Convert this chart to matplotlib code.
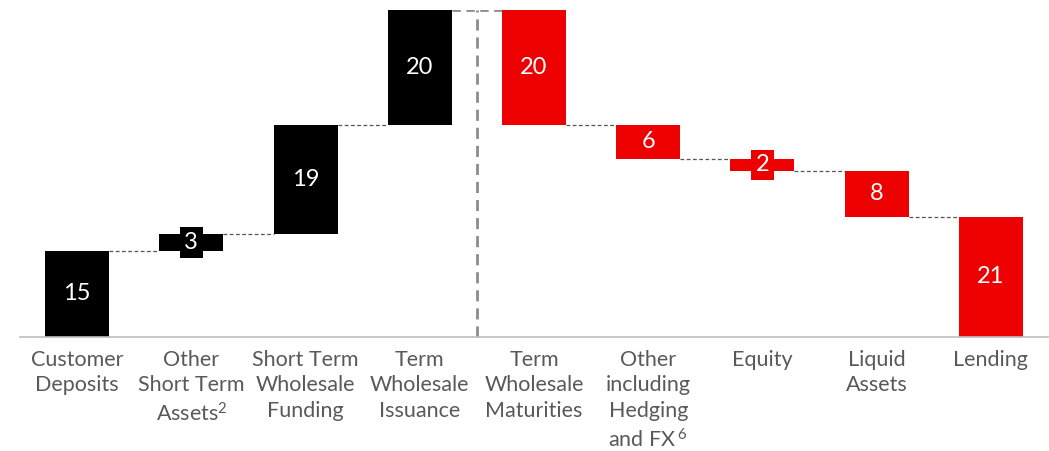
import matplotlib
matplotlib.use("Agg")
import matplotlib.pyplot as plt

# data
categories = ["Customer\nDeposits", "Other\nShort Term\nAssets$^{2}$", "Short Term\nWholesale\nFunding",
              "Term\nWholesale\nIssuance", "Term\nWholesale\nMaturities", "Other\nincluding\nHedging\nand FX$\\,^{6}$",
              "Equity", "Liquid\nAssets", "Lending"]
changes = [15, 3, 19, 20, -20, -6, -2, -8, -21]

black = "#000000"
red = "#EC0000"
grey_line = "#8C8C8C"
text_grey = "#595959"

plt.rcParams['font.family'] = ['Lato', 'DejaVu Sans']
plt.rcParams['mathtext.fontset'] = 'custom'
plt.rcParams['mathtext.rm'] = 'Lato'
plt.rcParams['mathtext.it'] = 'Lato'

fig = plt.figure(figsize=(10.49, 4.51), dpi=100)
ax = fig.add_axes([20 / 1049, (451 - 337) / 451, 1028 / 1049, 327 / 451])

# running totals
starts = []
total = 0
for c in changes:
    starts.append(total)
    total += c

width = 0.56
for i, (s, c) in enumerate(zip(starts, changes)):
    col = black if c > 0 else red
    lo = min(s, s + c)
    ax.bar(i, abs(c), bottom=lo, width=width, color=col, zorder=2)
    mid = lo + abs(c) / 2
    if abs(c) < 4:
        ax.text(i, mid, str(abs(c)), ha='center', va='center', color='white', fontsize=17,
                bbox=dict(boxstyle='square,pad=0.2', facecolor=col, edgecolor='none'), zorder=3)
    else:
        ax.text(i, mid, str(abs(c)), ha='center', va='center', color='white', fontsize=17, zorder=3)

# connectors
for i in range(len(changes) - 1):
    level = starts[i] + changes[i]
    if i == 3:
        ax.plot([i + width / 2, i + 1 - width / 2], [level, level], color=grey_line,
                lw=2, ls=(0, (3, 2)), zorder=1)
    else:
        ax.plot([i + width / 2, i + 1 - width / 2], [level, level], color='#555555',
                lw=0.9, ls=(0, (3, 2)), zorder=1)

# divider
ax.plot([3.5, 3.5], [0, 57], color=grey_line, lw=2, ls=(0, (4, 2.5)), zorder=1, clip_on=False)

ax.set_xlim(-0.5, 8.5)
ax.set_ylim(0, 57)
ax.set_xticks(range(len(categories)))
ax.set_xticklabels(categories, fontsize=15.5, color=text_grey, linespacing=1.37)
ax.tick_params(axis='x', length=0, pad=9)
ax.set_yticks([])
for sp in ['top', 'left', 'right']:
    ax.spines[sp].set_visible(False)
ax.spines['bottom'].set_color('#BFBFBF')
ax.spines['bottom'].set_linewidth(1.2)

plt.savefig('out.png', dpi=100)
